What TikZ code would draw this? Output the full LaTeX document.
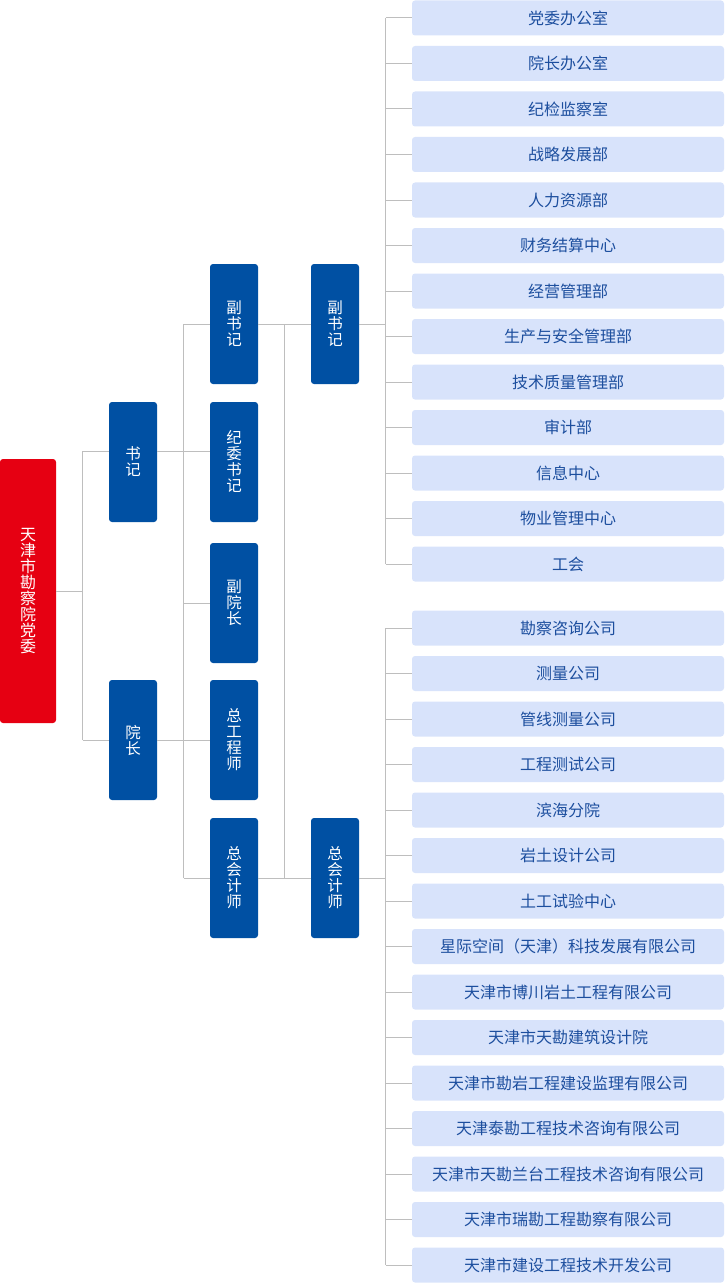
\documentclass[tikz,border=0pt]{standalone}
\usepackage{fontspec}
\newfontfamily\cjk{Noto Sans CJK SC}
\definecolor{partyred}{HTML}{E60012}
\definecolor{leadblue}{HTML}{0050A3}
\definecolor{deptfill}{HTML}{D8E3FB}
\definecolor{depttext}{HTML}{1C4E9E}
\definecolor{linegray}{HTML}{BEBEBE}
\tikzset{
  rootbox/.style={fill=partyred, text=white, rounded corners=3pt, inner sep=0pt,
    minimum width=56pt, minimum height=264pt, align=center,
    font=\cjk\fontsize{16}{16}\selectfont},
  leadbox/.style={fill=leadblue, text=white, rounded corners=3pt, inner sep=0pt,
    minimum width=48pt, minimum height=120pt, align=center,
    font=\cjk\fontsize{15.5}{16}\selectfont},
  deptbox/.style={fill=deptfill, text=depttext, rounded corners=3pt, inner sep=0pt,
    minimum width=312pt, minimum height=35pt,
    font=\cjk\fontsize{16}{18}\selectfont},
  link/.style={draw=linegray, line width=1pt}
}
\begin{document}
\begin{tikzpicture}[x=1pt,y=-1pt]
      \useasboundingbox (0,0) rectangle (724,1284);
      % leaders
      \node [rootbox] (root) at (28,591) {天\\津\\市\\勘\\察\\院\\党\\委};
      \node [leadbox] (shuji) at (133,462) {书\\记};
      \node [leadbox] (yuanzhang) at (133,740) {院\\长};
      \node [leadbox] (fsj) at (234,324) {副\\书\\记};
      \node [leadbox] (jwsj) at (234,462) {纪\\委\\书\\记};
      \node [leadbox] (fyz) at (234,603) {副\\院\\长};
      \node [leadbox] (zgcs) at (234,740) {总\\工\\程\\师};
      \node [leadbox] (zkjs) at (234,878) {总\\会\\计\\师};
      \node [leadbox] (fsjB) at (335,324) {副\\书\\记};
      \node [leadbox] (zkjsB) at (335,878) {总\\会\\计\\师};
      % departments
      \node [deptbox] (d1) at (568,18) {党委办公室};
      \node [deptbox] (d2) at (568,63.5) {院长办公室};
      \node [deptbox] (d3) at (568,109) {纪检监察室};
      \node [deptbox] (d4) at (568,154.5) {战略发展部};
      \node [deptbox] (d5) at (568,200) {人力资源部};
      \node [deptbox] (d6) at (568,245.5) {财务结算中心};
      \node [deptbox] (d7) at (568,291) {经营管理部};
      \node [deptbox] (d8) at (568,336.5) {生产与安全管理部};
      \node [deptbox] (d9) at (568,382) {技术质量管理部};
      \node [deptbox] (d10) at (568,427.5) {审计部};
      \node [deptbox] (d11) at (568,473) {信息中心};
      \node [deptbox] (d12) at (568,518.5) {物业管理中心};
      \node [deptbox] (d13) at (568,564) {工会};
      % companies
      \node [deptbox] (c1) at (568,628) {勘察咨询公司};
      \node [deptbox] (c2) at (568,673.5) {测量公司};
      \node [deptbox] (c3) at (568,719) {管线测量公司};
      \node [deptbox] (c4) at (568,764.5) {工程测试公司};
      \node [deptbox] (c5) at (568,810) {滨海分院};
      \node [deptbox] (c6) at (568,855.5) {岩土设计公司};
      \node [deptbox] (c7) at (568,901) {土工试验中心};
      \node [deptbox] (c8) at (568,946.5) {星际空间（天津）科技发展有限公司};
      \node [deptbox] (c9) at (568,992) {天津市博川岩土工程有限公司};
      \node [deptbox] (c10) at (568,1037.5) {天津市天勘建筑设计院};
      \node [deptbox] (c11) at (568,1083) {天津市勘岩工程建设监理有限公司};
      \node [deptbox] (c12) at (568,1128.5) {天津泰勘工程技术咨询有限公司};
      \node [deptbox] (c13) at (568,1174) {天津市天勘兰台工程技术咨询有限公司};
      \node [deptbox] (c14) at (568,1219.5) {天津市瑞勘工程勘察有限公司};
      \node [deptbox] (c15) at (568,1265) {天津市建设工程技术开发公司};
      % buses
      \coordinate (busA) at (82.5,0);
      \coordinate (busB) at (183.5,0);
      \coordinate (busC) at (284.5,0);
      \coordinate (busD) at (385.5,0);
      \coordinate (sjTie) at ([yshift=11pt]shuji.east);
      % root to shuji / yuanzhang
      \draw [link] (root.east) -- (busA |- root.east);
      \draw [link] (busA |- sjTie) -- (busA |- yuanzhang.west);
      \draw [link] (busA |- sjTie) -- ([yshift=11pt]shuji.west);
      \draw [link] (busA |- yuanzhang.west) -- (yuanzhang.west);
      % second column
      \draw [link] (sjTie) -- ([yshift=11pt]jwsj.west);
      \draw [link] (yuanzhang.east) -- (zgcs.west);
      \draw [link] (busB |- fsj.west) -- (busB |- zkjs.west);
      \draw [link] (busB |- fsj.west) -- (fsj.west);
      \draw [link] (busB |- fyz.west) -- (fyz.west);
      \draw [link] (busB |- zkjs.west) -- (zkjs.west);
      % third column
      \draw [link] (fsj.east) -- (fsjB.west);
      \draw [link] (zkjs.east) -- (zkjsB.west);
      \draw [link] (busC |- fsj.east) -- (busC |- zkjs.east);
      % departments bus
      \draw [link] (fsjB.east) -- (busD |- fsjB.east);
      \draw [link] (busD |- d1.west) -- (busD |- d13.west);
      \foreach \n in {1,...,13}
        \draw [link] (busD |- d\n.west) -- (d\n.west);
      % companies bus
      \draw [link] (zkjsB.east) -- (busD |- zkjsB.east);
      \draw [link] (busD |- c1.west) -- (busD |- c15.west);
      \foreach \n in {1,...,15}
        \draw [link] (busD |- c\n.west) -- (c\n.west);
    \end{tikzpicture}
\end{document}
